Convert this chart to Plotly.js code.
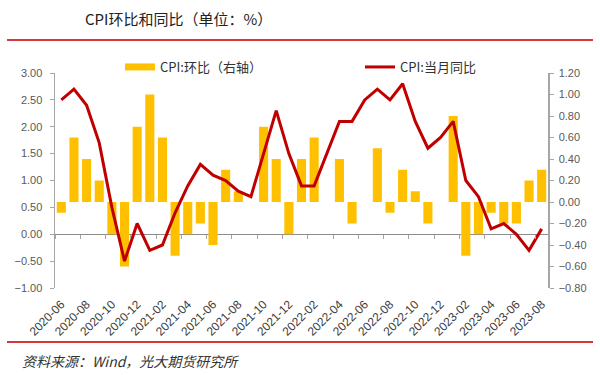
<!DOCTYPE html>
<html>
<head>
<meta charset="utf-8">
<script src="https://cdn.plot.ly/plotly-3.0.1.min.js"></script>
<style>html,body{margin:0;padding:0;background:#fff;}#chart{width:600px;height:375px;}</style>
</head>
<body>
<div id="chart"></div>
<script>
// ---- data ----
const months = ['2020-06','2020-07','2020-08','2020-09','2020-10','2020-11','2020-12',
  '2021-01','2021-02','2021-03','2021-04','2021-05','2021-06','2021-07','2021-08','2021-09','2021-10','2021-11','2021-12',
  '2022-01','2022-02','2022-03','2022-04','2022-05','2022-06','2022-07','2022-08','2022-09','2022-10','2022-11','2022-12',
  '2023-01','2023-02','2023-03','2023-04','2023-05','2023-06','2023-07','2023-08'];
// CPI 环比 (right axis)
const cpiMoM = [-0.1,0.6,0.4,0.2,-0.3,-0.6,0.7,
  1.0,0.6,-0.5,-0.3,-0.2,-0.4,0.3,0.1,0.0,0.7,0.4,-0.3,
  0.4,0.6,0.0,0.4,-0.2,0.0,0.5,-0.1,0.3,0.1,-0.2,0.0,
  0.8,-0.5,-0.3,-0.1,-0.2,-0.2,0.2,0.3];
// CPI 当月同比 (left axis)
const cpiYoY = [2.5,2.7,2.4,1.7,0.5,-0.5,0.2,
  -0.3,-0.2,0.4,0.9,1.3,1.1,1.0,0.8,0.7,1.5,2.3,1.5,
  0.9,0.9,1.5,2.1,2.1,2.5,2.7,2.5,2.8,2.1,1.6,1.8,
  2.1,1.0,0.7,0.1,0.2,0.0,-0.3,0.1];
const tickLabels = ['2020-06','2020-08','2020-10','2020-12','2021-02','2021-04','2021-06','2021-08','2021-10','2021-12',
  '2022-02','2022-04','2022-06','2022-08','2022-10','2022-12','2023-02','2023-04','2023-06','2023-08'];
const seriesNames = ['CPI:环比（右轴）','CPI:当月同比'];
const titleText = 'CPI环比和同比（单位：%）';
const sourceText = '资料来源：Wind，光大期货研究所';

// ---- layout geometry (pixels) ----
const W = 600, H = 375;
const L = 55, R = 548, T = 73, B = 288;
const px2x = p => (p - L) / (R - L);
const py2y = p => (B - p) / (B - T);

const axisGray = '#A6A6A6';
const tickFont = {family: 'Liberation Sans, Arial, sans-serif', size: 11, color: '#595959'};
const xTickFont = {family: 'Liberation Sans, Arial, sans-serif', size: 12, color: '#404040'};
const cjk = 'Noto Sans CJK SC, sans-serif';
const legendFont = {family: cjk, size: 13, color: '#333'};

const traces = [
  {type: 'bar', x: months, y: cpiMoM, name: seriesNames[0], xaxis: 'x', yaxis: 'y',
   marker: {color: '#FFC000'}, showlegend: false},
  // legend proxy for the bar series (wide flat swatch as in the reference)
  {type: 'scatter', mode: 'lines', x: [null], y: [null], name: seriesNames[0], xaxis: 'x', yaxis: 'y',
   line: {color: '#FFC000', width: 7}, legend: 'legend', showlegend: true, hoverinfo: 'skip'},
  {type: 'scatter', mode: 'lines', x: months, y: cpiYoY, name: seriesNames[1], xaxis: 'x', yaxis: 'y2',
   line: {color: '#C00000', width: 3}, legend: 'legend2', showlegend: true},
  {type: 'scatter', mode: 'markers', x: months, y: cpiMoM, xaxis: 'x2', yaxis: 'y',
   marker: {opacity: 0, size: 1}, showlegend: false, hoverinfo: 'skip'}
];

const layout = {
  width: W, height: H,
  margin: {l: L, r: W - R, t: T, b: H - B, pad: 0},
  paper_bgcolor: '#fff', plot_bgcolor: '#fff',
  bargap: 0.28,
  showlegend: true,
  title: {text: titleText, x: 85 / W, xanchor: 'left', xref: 'container',
          y: 1 - 20 / H, yanchor: 'middle', yref: 'container', pad: {l: 0, r: 0, t: 0, b: 0},
          font: {family: cjk, size: 15, color: '#222'}},
  legend: {orientation: 'h', x: px2x(120), xanchor: 'left', y: py2y(67), yanchor: 'middle',
           bgcolor: 'rgba(0,0,0,0)', font: legendFont, itemwidth: 30},
  legend2: {orientation: 'h', x: px2x(360), xanchor: 'left', y: py2y(67), yanchor: 'middle',
           bgcolor: 'rgba(0,0,0,0)', font: legendFont, itemwidth: 30},
  xaxis: {type: 'category', range: [-0.5, months.length - 0.5], tickmode: 'array',
          tickvals: tickLabels, ticktext: tickLabels, tickangle: -45, ticks: '', showline: false,
          showgrid: false, zeroline: false, tickfont: xTickFont, anchor: 'y', ticklabelstandoff: 6},
  xaxis2: {type: 'category', overlaying: 'x', matches: 'x', anchor: 'free', position: 0.25,
           tickmode: 'array', tickvals: tickLabels, tickson: 'boundaries', ticks: 'outside', ticklen: 4,
           tickcolor: axisGray, showticklabels: false, showline: false, showgrid: false, zeroline: false},
  yaxis: {side: 'right', range: [-0.8, 1.2], dtick: 0.2, tick0: 0, tickformat: '.2f',
          showline: true, linecolor: axisGray, linewidth: 1.5, ticks: 'outside', ticklen: 4, tickcolor: axisGray,
          showgrid: false, zeroline: false, tickfont: tickFont, anchor: 'x', ticklabelstandoff: 3},
  yaxis2: {overlaying: 'y', side: 'left', range: [-1, 3], dtick: 0.5, tick0: 0, tickformat: '.2f',
           showline: true, linecolor: axisGray, linewidth: 1.5, ticks: 'outside', ticklen: 4, tickcolor: axisGray,
           showgrid: false, zeroline: true, zerolinecolor: '#8C8C8C', zerolinewidth: 1, tickfont: tickFont,
           ticklabelstandoff: 5},
  shapes: [
    {type: 'line', xref: 'paper', yref: 'paper', x0: px2x(7), x1: px2x(593), y0: py2y(40), y1: py2y(40),
     line: {color: '#D9363A', width: 2}},
    {type: 'line', xref: 'paper', yref: 'paper', x0: px2x(7), x1: px2x(593), y0: py2y(342), y1: py2y(342),
     line: {color: '#D9363A', width: 2}}
  ],
  annotations: [
    {text: '<i>' + sourceText + '</i>', xref: 'paper', yref: 'paper', x: px2x(20), y: py2y(361),
     xanchor: 'left', yanchor: 'middle', showarrow: false,
     font: {family: cjk, size: 14, color: '#333'}}
  ]
};

Plotly.newPlot('chart', traces, layout, {displayModeBar: false, staticPlot: true});
</script>
</body>
</html>
